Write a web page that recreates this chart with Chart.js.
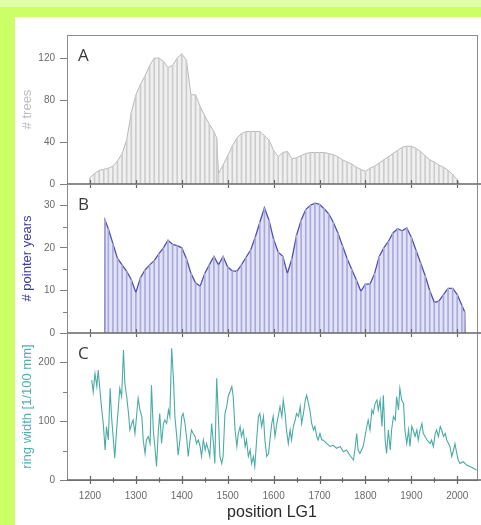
<!DOCTYPE html>
<html>
<head>
<meta charset="utf-8">
<script src="https://cdn.jsdelivr.net/npm/chart.js@4.4.1/dist/chart.umd.min.js"></script>
<style>
    body { margin: 0; background: #ccff66; }
    #page { position: relative; width: 481px; height: 525px; overflow: hidden; }
    #topStrip { position: absolute; left: 0; top: 0; width: 481px; height: 7px; background: #e0ffa6; }
    #panel { position: absolute; left: 15px; top: 17px; width: 466px; height: 508px; background: #ffffff; }
    canvas { position: absolute; left: 0; top: 0; }
</style>
</head>
<body>
<div id="page">
    <div id="topStrip"></div>
    <div id="panel"></div>
    <canvas id="chartA" width="481" height="525"></canvas>
    <canvas id="chartB" width="481" height="525"></canvas>
    <canvas id="chartC" width="481" height="525"></canvas>
</div>
<script>
// x axis tick labels (shared by all three panels)
const yearTicks = [1200, 1300, 1400, 1500, 1600, 1700, 1800, 1900, 2000];

// Panel A: number of trees
const treeYears = [1198, 1200, 1210, 1220, 1230, 1240, 1250, 1260, 1270, 1280, 1290, 1300, 1310, 1320, 1330, 1340, 1350,
    1360, 1370, 1380, 1390, 1400, 1410, 1420, 1430, 1440, 1450, 1460, 1470, 1476, 1480, 1490, 1500, 1510, 1520, 1530,
    1540, 1550, 1560, 1570, 1580, 1590, 1600, 1610, 1620, 1630, 1640, 1650, 1660, 1670, 1680, 1690, 1700, 1710, 1720,
    1730, 1740, 1750, 1760, 1770, 1780, 1790, 1800, 1810, 1820, 1830, 1840, 1850, 1860, 1870, 1880, 1890, 1900, 1910,
    1920, 1930, 1940, 1950, 1960, 1970, 1980, 1990, 2000, 2005];
const treeCounts = [0, 6, 10, 13, 14, 15, 17, 22, 29, 42, 68, 85, 95, 103, 113, 120, 120,
    117, 111, 113, 120, 124, 118, 85, 85, 74, 65, 57, 50, 44, 10, 18, 27, 36, 44, 48,
    50, 50, 50, 50, 46, 42, 32, 26, 30, 31, 24, 25, 27, 29, 30, 30, 30, 30, 29,
    28, 26, 23, 21, 19, 16, 14, 12, 15, 17, 20, 23, 26, 29, 32, 35, 36, 36, 34,
    31, 27, 23, 21, 18, 16, 13, 9, 4, 0];

// Panel B: number of pointer years
const pointerYears = [1232, 1233, 1240, 1250, 1260, 1270, 1280, 1290, 1300, 1310, 1320, 1330, 1340, 1350, 1360, 1370,
    1380, 1390, 1400, 1410, 1420, 1430, 1440, 1450, 1460, 1470, 1480, 1490, 1500, 1510, 1520, 1530, 1540, 1550,
    1560, 1570, 1580, 1590, 1600, 1610, 1620, 1630, 1640, 1650, 1660, 1670, 1680, 1690, 1700, 1710, 1720, 1730,
    1740, 1750, 1760, 1770, 1780, 1790, 1800, 1810, 1820, 1830, 1840, 1850, 1860, 1870, 1880, 1890, 1900, 1910,
    1920, 1930, 1940, 1950, 1960, 1970, 1980, 1990, 2000, 2010, 2016, 2017];
const pointerCounts = [0, 26.5, 24.5, 21, 17.5, 16, 14.5, 12.5, 9.5, 13, 14.8, 16, 17, 18.6, 20, 21.8,
    20.8, 20.5, 20, 17.5, 14, 11.8, 11, 14, 16, 18, 16, 18, 15.5, 14.6, 14.5, 16, 17.8, 19.5,
    22.5, 26, 29.4, 26.5, 22, 19, 18, 14, 17.5, 23, 26.5, 29, 30, 30.5, 30.2, 29.2, 28, 26,
    23.5, 20.5, 17.5, 15, 12.5, 9.8, 11.5, 11.5, 14, 18, 20, 21.5, 23.5, 24.5, 24, 24.7, 22.5, 19.5,
    16.5, 13.5, 10, 7.2, 7.5, 9, 10.5, 10.5, 9, 6.5, 5, 0];

// Panel C: ring width [1/100 mm]
const ringYears = [1204, 1207, 1211, 1215, 1218, 1222, 1225, 1229, 1233, 1236, 1240, 1244, 1247, 1251, 1254, 1258,
    1262, 1265, 1269, 1273, 1276, 1280, 1284, 1287, 1291, 1294, 1298, 1302, 1305, 1309, 1313, 1316, 1320, 1323,
    1327, 1331, 1334, 1338, 1342, 1345, 1349, 1352, 1356, 1360, 1363, 1367, 1371, 1374, 1378, 1382, 1385, 1389,
    1392, 1396, 1400, 1403, 1407, 1411, 1414, 1418, 1421, 1425, 1429, 1432, 1436, 1440, 1443, 1447, 1451, 1454,
    1458, 1461, 1465, 1469, 1472, 1476, 1480, 1483, 1487, 1490, 1494, 1498, 1501, 1505, 1509, 1512, 1516, 1520,
    1523, 1527, 1530, 1534, 1538, 1541, 1545, 1549, 1552, 1556, 1559, 1563, 1567, 1570, 1574, 1578, 1581, 1585,
    1589, 1592, 1596, 1599, 1603, 1607, 1610, 1614, 1618, 1621, 1625, 1628, 1632, 1636, 1639, 1643, 1647, 1650,
    1654, 1658, 1661, 1665, 1669, 1672, 1676, 1679, 1683, 1687, 1690, 1694, 1697, 1701, 1705, 1708, 1716, 1723,
    1730, 1737, 1745, 1752, 1759, 1766, 1774, 1777, 1781, 1784, 1788, 1795, 1803, 1806, 1810, 1814, 1817, 1821,
    1825, 1828, 1832, 1836, 1839, 1843, 1846, 1850, 1854, 1857, 1861, 1865, 1868, 1872, 1875, 1879, 1883, 1886,
    1890, 1894, 1897, 1901, 1904, 1908, 1912, 1915, 1919, 1923, 1926, 1930, 1934, 1941, 1944, 1948, 1952, 1955,
    1959, 1963, 1966, 1970, 1974, 1977, 1981, 1984, 1988, 1992, 1995, 1999, 2002, 2006, 2013, 2021, 2028, 2035, 2042];
const ringWidths = [170, 150, 181, 159, 187, 150, 125, 96, 51, 91, 68, 156, 108, 68, 37, 85,
    125, 156, 142, 221, 164, 142, 113, 85, 96, 102, 79, 113, 139, 119, 108, 68, 45, 68,
    74, 62, 161, 85, 51, 23, 85, 113, 62, 96, 102, 96, 119, 108, 224, 170, 108, 74,
    42, 68, 108, 113, 96, 68, 40, 68, 85, 79, 74, 62, 68, 57, 40, 68, 51, 62,
    51, 40, 96, 62, 28, 173, 102, 40, 28, 40, 113, 125, 142, 150, 159, 142, 85, 57,
    79, 91, 74, 85, 57, 68, 40, 51, 28, 40, 23, 68, 108, 113, 91, 108, 68, 40,
    45, 68, 96, 108, 74, 96, 108, 125, 108, 136, 113, 85, 62, 85, 68, 91, 102, 113,
    108, 125, 96, 113, 136, 144, 130, 119, 96, 85, 91, 74, 68, 79, 68, 68, 62, 57,
    59, 54, 57, 48, 51, 42, 34, 51, 79, 51, 45, 57, 91, 102, 85, 119, 113, 130,
    136, 119, 136, 91, 144, 68, 45, 85, 51, 85, 108, 102, 142, 119, 156, 136, 130, 85,
    62, 85, 57, 91, 85, 74, 85, 68, 85, 96, 79, 74, 68, 62, 68, 57, 79, 85,
    74, 91, 85, 74, 79, 68, 62, 57, 40, 51, 62, 45, 34, 28, 31, 25, 23, 20, 17];

function toPoints(xs, ys) {
    return xs.map((x, i) => ({ x: x, y: ys[i] }));
}

// draws the box, crossing x ticks, minor y ticks and the panel letter
function makeFramePlugin(letter, yMinor, xMinor) {
    return {
        id: 'panelFrame' + letter,
        afterDraw(chart) {
            const { ctx, chartArea: a, scales } = chart;
            const x = scales.x, y = scales.y;
            const seg = (x1, y1, x2, y2) => { ctx.beginPath(); ctx.moveTo(x1, y1); ctx.lineTo(x2, y2); ctx.stroke(); };
            ctx.save();
            ctx.strokeStyle = '#8c8c8c';
            ctx.lineWidth = 1;
            ctx.strokeRect(a.left + 0.5, a.top + 0.5, a.right - a.left, a.bottom - a.top);
            ctx.strokeStyle = '#666666';
            ctx.lineWidth = 1.5;
            seg(a.left, a.bottom, a.right + 4, a.bottom);
            ctx.lineWidth = 1.2;
            yearTicks.forEach(v => {
                const px = Math.round(x.getPixelForValue(v)) + 0.5;
                seg(px, a.bottom - 4, px, a.bottom + 4);
                if (xMinor && v + 50 < x.max) {
                    const pm = Math.round(x.getPixelForValue(v + 50)) + 0.5;
                    seg(pm, a.bottom - 2.5, pm, a.bottom + 2.5);
                }
            });
            if (yMinor) {
                ctx.strokeStyle = '#808080';
                ctx.lineWidth = 1;
                for (let v = yMinor; v < y.max; v += 2 * yMinor) {
                    const py = Math.round(y.getPixelForValue(v)) + 0.5;
                    seg(a.left - 4, py, a.left, py);
                }
            }
            ctx.fillStyle = '#3a3a3a';
            ctx.font = '17px "Open Sans"';
            ctx.textBaseline = 'alphabetic';
            ctx.fillText(letter, a.left + 11, a.top + 26);
            ctx.restore();
        }
    };
}

function yAxis(max, step, title, titleColor) {
    return {
        min: 0,
        max: max,
        afterFit: (scale) => { scale.width = 51; },
        border: { display: false },
        grid: { drawOnChartArea: false, drawTicks: true, tickLength: 7, color: '#808080' },
        ticks: {
            stepSize: step,
            includeBounds: false,
            padding: 5,
            color: '#6a6a6a',
            font: { family: 'Liberation Sans', size: 10 }
        },
        title: {
            display: true,
            text: title,
            color: titleColor,
            padding: { top: 4, bottom: 2 },
            font: { family: 'Liberation Sans', size: 13 }
        }
    };
}

function xAxis(show) {
    return {
        type: 'linear',
        min: 1150,
        max: 2043,
        offset: false,
        display: show,
        afterBuildTicks: (scale) => { scale.ticks = yearTicks.map(v => ({ value: v })); },
        afterFit: (scale) => { if (show) scale.height = 45; },
        border: { display: false },
        grid: { display: false, drawTicks: false },
        ticks: {
            autoSkip: false,
            maxRotation: 0,
            padding: 10,
            color: '#6a6a6a',
            font: { family: 'Liberation Sans', size: 10 },
            callback: (value) => String(value)
        },
        title: {
            display: show,
            text: 'position LG1',
            color: '#2a2a2a',
            padding: { top: 0, bottom: 3 },
            font: { family: 'Liberation Sans', size: 16 }
        }
    };
}

function baseOptions(padTop, padBottom, yScale, showX) {
    return {
        responsive: false,
        animation: false,
        events: [],
        layout: { padding: { left: 16, right: 4, top: padTop, bottom: padBottom } },
        plugins: { legend: { display: false }, tooltip: { enabled: false } },
        scales: { x: xAxis(showX), y: yScale }
    };
}

document.addEventListener("DOMContentLoaded", function () {
    // A: trees, grey histogram
    new Chart(document.getElementById('chartA'), {
        type: 'line',
        data: {
            datasets: [
                {
                    type: 'bar',
                    data: toPoints(treeYears, treeCounts),
                    backgroundColor: '#cccccc',
                    barThickness: 1,
                    order: 1
                },
                {
                    data: toPoints(treeYears, treeCounts),
                    borderColor: '#b8b8b8',
                    borderWidth: 1,
                    backgroundColor: '#f0f0f0',
                    fill: 'origin',
                    pointRadius: 0,
                    tension: 0,
                    order: 2
                }
            ]
        },
        options: baseOptions(35, 525 - 184, yAxis(142, 40, '# trees', '#bdbdbd'), false),
        plugins: [makeFramePlugin('A', null, false)]
    });

    // B: pointer years, blue histogram
    new Chart(document.getElementById('chartB'), {
        type: 'line',
        data: {
            datasets: [
                {
                    type: 'bar',
                    data: toPoints(pointerYears, pointerCounts),
                    backgroundColor: '#a9a9dd',
                    barThickness: 1,
                    order: 1
                },
                {
                    data: toPoints(pointerYears, pointerCounts),
                    borderColor: '#5050ae',
                    borderWidth: 1.3,
                    backgroundColor: '#e3e3f7',
                    fill: 'origin',
                    pointRadius: 0,
                    tension: 0,
                    order: 2
                }
            ]
        },
        options: baseOptions(184, 525 - 333, yAxis(35, 10, '# pointer years', '#3b3ba6'), false),
        plugins: [makeFramePlugin('B', 5, false)]
    });

    // C: ring width curve
    new Chart(document.getElementById('chartC'), {
        type: 'line',
        data: {
            datasets: [
                {
                    data: toPoints(ringYears, ringWidths),
                    borderColor: '#4aaca4',
                    borderWidth: 1.1,
                    fill: false,
                    pointRadius: 0,
                    tension: 0
                }
            ]
        },
        options: baseOptions(333, 0, yAxis(250, 100, 'ring width [1/100 mm]', '#4cb0b0'), true),
        plugins: [makeFramePlugin('C', 50, true)]
    });
});
</script>
</body>
</html>
